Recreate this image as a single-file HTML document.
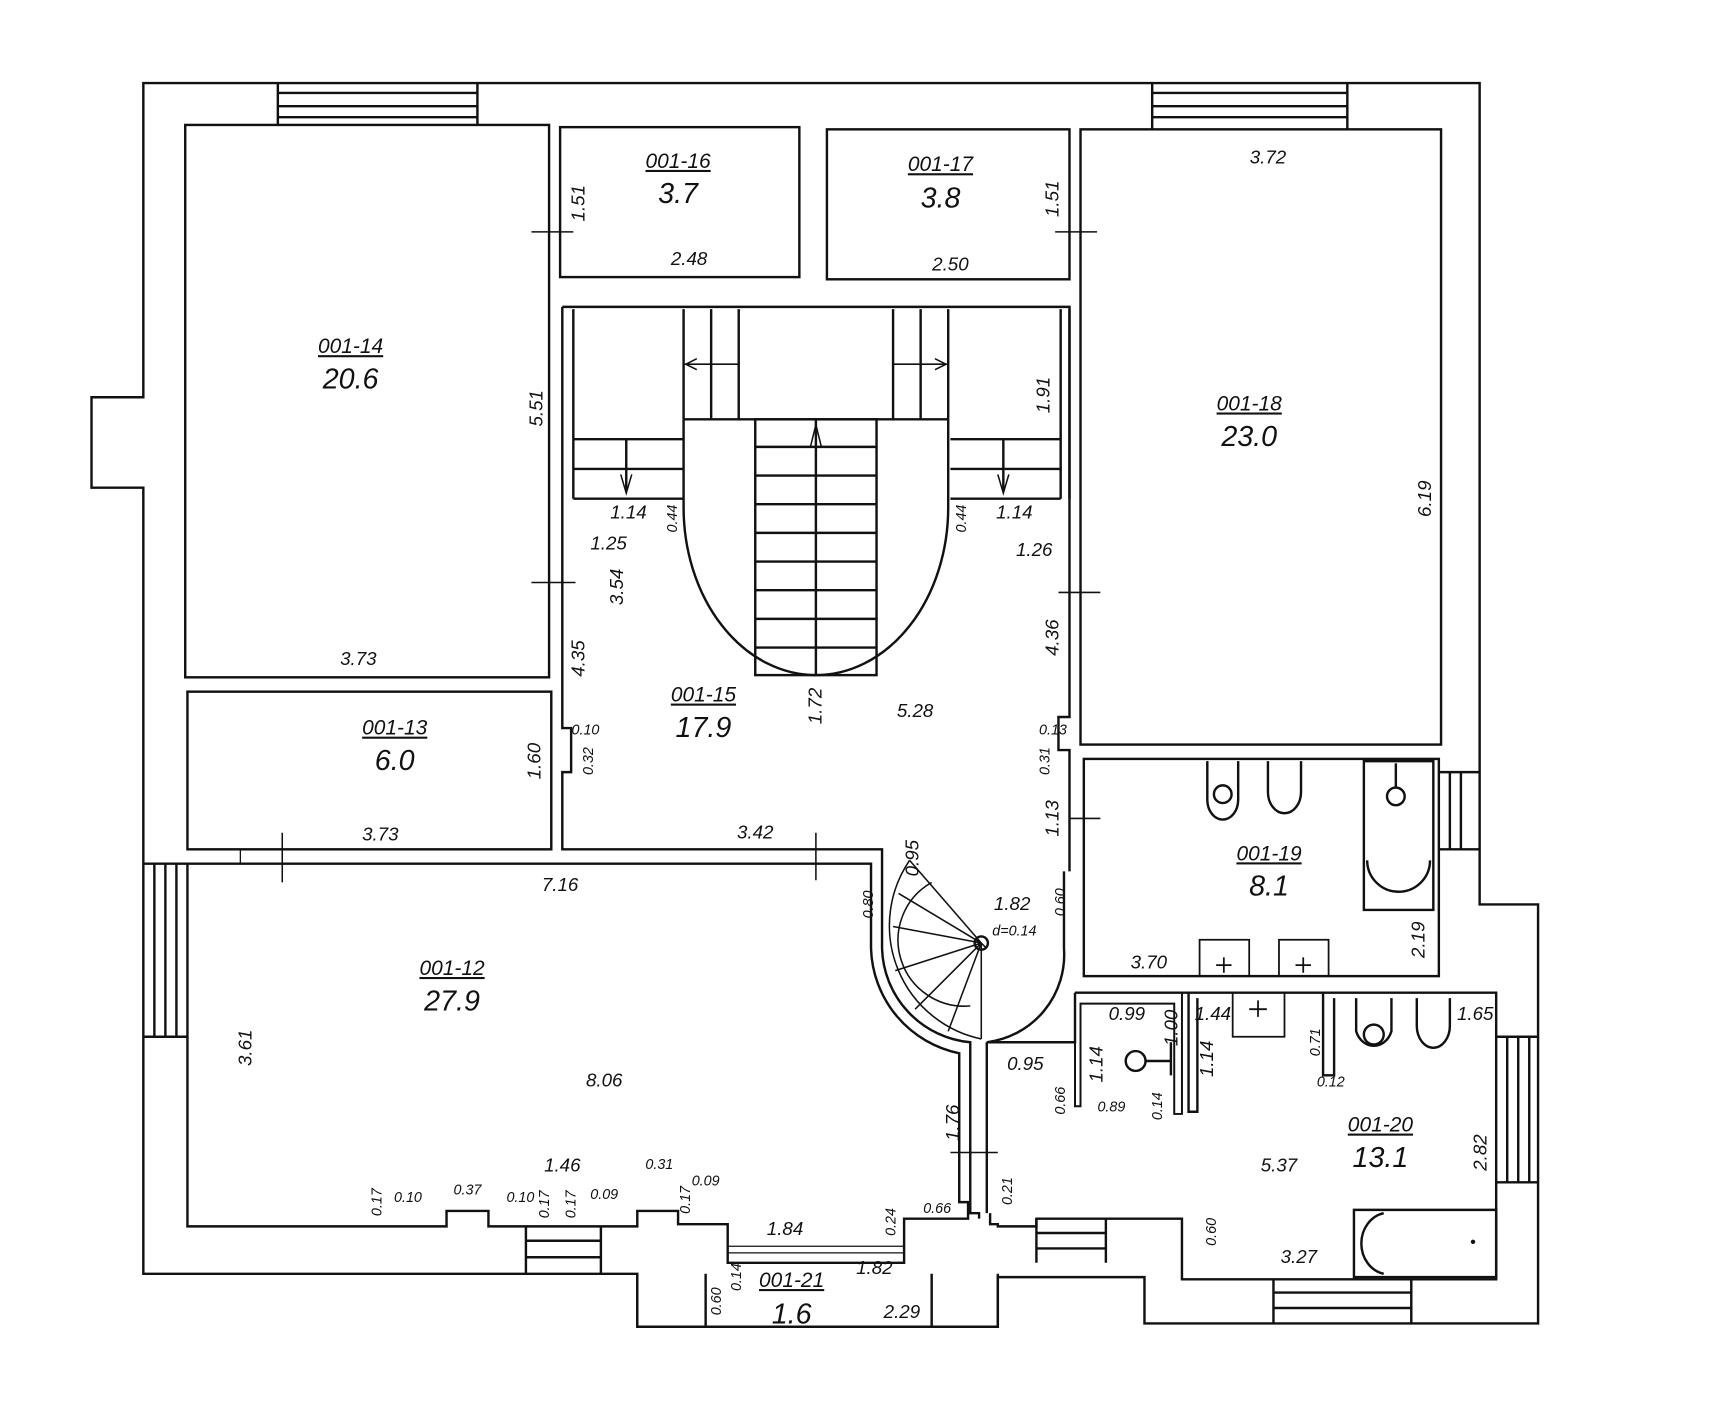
<!DOCTYPE html>
<html><head><meta charset="utf-8"><style>
html,body{margin:0;padding:0;background:#fff;}
svg{display:block}
text{font-family:"Liberation Sans Narrow","Liberation Sans",sans-serif;fill:#111;font-style:italic}
.n{font-size:19px;text-anchor:middle;text-decoration:underline}
.a{font-size:26px;text-anchor:middle}
.d{font-size:17px;text-anchor:middle}
.s{font-size:13px;text-anchor:middle}
</style></head><body>
<svg width="1720" height="1423" viewBox="0 0 1560 1290" xmlns="http://www.w3.org/2000/svg">
<g fill="none" stroke="#111" stroke-width="2.2">
<!-- outer wall -->
<path d="M130,75 H1342 V820 H1395 V1200 H1038 V1158 H905 V1203 H578 V1155 H130 V442 H83 V360 H130 Z"/>
<!-- rooms -->
<rect x="168" y="113" width="330" height="501"/>
<rect x="508" y="115" width="217" height="136"/>
<rect x="750" y="117" width="220" height="136"/>
<rect x="980" y="117" width="327" height="558"/>
<rect x="170" y="627" width="330" height="143"/>
<rect x="983" y="688" width="322" height="197"/>
<!-- hall 001-15 -->
<path d="M510,278 H970 V650 H960 V680 H970 V790"/>
<path d="M510,278 V660 H518 V700 H510 V770 H800 V860 A88,88 0 0 0 880,945 V1100 H888 V1105"/>
<path d="M965,790 V860 A80,80 0 0 1 895,945"/>
<path d="M895,945 V1100"/>
<!-- 001-12 -->
<path d="M170,783 H790 V860 A100,100 0 0 0 870,955 V1090 H878 V1105 H820 V1145 H660 V1110 H615 V1098 H578 V1112 H443 V1098 H405 V1112 H170 Z"/>
<path d="M218,770 V783 M660,1130 H820 M660,1136 H820" stroke-width="1.2"/>
<!-- 001-20 -->
<path d="M975,900 H1357 V1160 H1072 V1105 H940 V1112 H905 V1110 H898 V1100 M895,945 H975 V900"/>
<path d="M975,945 V1003 H980 V910 H1065 V1010 H1072 V900" stroke-width="1.8"/>
<path d="M1078,900 V1008 H1086 V905 M1200,900 V975 H1210 V905"/>
<!-- 001-21 -->
<path d="M578,1155 V1203 H905 V1155 M640,1155 V1203 M845,1155 V1203"/>
<!-- stairs -->
<path d="M520,280 V452 M962,280 V452 M970,280 V452"/>
<path d="M620,280 V380 M645,280 V380 M670,280 V380 M810,280 V380 M835,280 V380 M860,280 V380"/>
<path d="M620,380 H860 M620,380 V460 A120,152 0 0 0 860,460 V380"/>
<rect x="685" y="380" width="110" height="232"/>
<path d="M740,380 V612 M685,405 H795 M685,431 H795 M685,457 H795 M685,483 H795 M685,509 H795 M685,535 H795 M685,561 H795 M685,587 H795"/>
<path d="M520,398 H620 M520,425 H620 M520,452 H620 M568,398 V445 M862,398 H962 M862,425 H962 M862,452 H962 M910,398 V445"/>
<path d="M620,330 H670 M810,330 H860" stroke-width="1.4"/>
<path d="M563,430 L568,447 L573,430 M905,430 L910,447 L915,430 M735,405 L740,385 L745,405 M632,325 L622,330 L632,335 M848,325 L858,330 L848,335" stroke-width="1.4"/>
<!-- spiral -->
<path d="M890,855 L825,780 M890,855 L815,810 M890,855 L810,840 M890,855 L812,880 M890,855 L830,915 M890,855 L860,935 M890,855 L890,942 M890,855 L895,860 M890,855 V942" stroke-width="1.4"/>
<path d="M845,800 A60,60 0 0 0 880,912 M825,780 A105,105 0 0 0 890,942" stroke-width="1.4"/>
<circle cx="890" cy="855" r="6"/>
<!-- windows -->
<path d="M252,75 V113 M433,75 V113 M252,84 H433 M252,96 H433 M252,106 H433"/>
<path d="M1045,75 V117 M1222,75 V117 M1045,84 H1222 M1045,96 H1222 M1045,106 H1222"/>
<path d="M130,783 H170 M130,940 H170 M140,783 V940 M150,783 V940 M160,783 V940"/>
<path d="M1305,700 H1342 M1305,770 H1342 M1315,700 V770 M1325,700 V770"/>
<path d="M1357,940 H1395 M1357,1072 H1395 M1367,940 V1072 M1377,940 V1072 M1387,940 V1072"/>
<path d="M477,1112 V1155 M545,1112 V1155 M477,1125 H545 M477,1140 H545"/>
<path d="M940,1105 V1145 M1003,1105 V1145 M940,1118 H1003 M940,1132 H1003"/>
<path d="M1155,1160 V1200 M1280,1160 V1200 M1155,1172 H1280 M1155,1186 H1280"/>
<!-- door ticks -->
<path d="M482,210 H520 M957,210 H995 M482,528 H522 M960,537 H998 M970,742 H998 M256,755 V800 M740,755 V798 M862,1045 H905" stroke-width="1.4"/>
<!-- fixtures 001-19 -->
<path d="M1095,690 V725 A14,18 0 0 0 1123,725 V690"/><circle cx="1109" cy="720" r="8"/>
<path d="M1150,690 V718 A14,18 0 0 0 1180,718 V690"/>
<path d="M1237,690 V825 H1300 V690 Z M1240,780 A28,28 0 0 0 1297,780"/><circle cx="1266" cy="722" r="8"/><path d="M1266,692 V714"/>
<path d="M1088,885 V852 H1133 V885 M1160,885 V852 H1205 V885 M1103,875 H1117 M1110,868 V882 M1175,875 H1189 M1182,868 V882" stroke-width="1.6"/>
<!-- fixtures 001-20 -->
<path d="M1118,900 V940 H1165 V900 M1133,915 H1149 M1141,907 V922" stroke-width="1.6"/>
<path d="M1230,905 V935 A17,20 0 0 0 1262,935 V905"/><circle cx="1246" cy="938" r="9"/>
<path d="M1285,905 V930 A15,20 0 0 0 1315,930 V905"/>
<path d="M1228,1097 H1357 V1158 H1228 Z M1255,1100 A25,28 0 0 0 1255,1155"/>
<circle cx="1030" cy="962" r="9"/><path d="M1039,962 H1062 M1062,945 V975"/>
</g>
<circle cx="1336" cy="1126" r="2" fill="#111"/>
<!-- room labels -->
<text class="n" x="318" y="320">001-14</text><text class="a" x="318" y="352">20.6</text>
<text class="n" x="615" y="152">001-16</text><text class="a" x="615" y="184">3.7</text>
<text class="n" x="853" y="155">001-17</text><text class="a" x="853" y="188">3.8</text>
<text class="n" x="1133" y="372">001-18</text><text class="a" x="1133" y="404">23.0</text>
<text class="n" x="358" y="666">001-13</text><text class="a" x="358" y="698">6.0</text>
<text class="n" x="638" y="636">001-15</text><text class="a" x="638" y="668">17.9</text>
<text class="n" x="410" y="884">001-12</text><text class="a" x="410" y="916">27.9</text>
<text class="n" x="1151" y="780">001-19</text><text class="a" x="1151" y="812">8.1</text>
<text class="n" x="1252" y="1026">001-20</text><text class="a" x="1252" y="1058">13.1</text>
<text class="n" x="718" y="1167">001-21</text><text class="a" x="718" y="1200">1.6</text>
<!-- dimensions -->
<text class="d" x="625" y="240">2.48</text>
<text class="d" x="862" y="245">2.50</text>
<text class="d" x="1150" y="148">3.72</text>
<text class="d" x="325" y="603">3.73</text>
<text class="d" x="345" y="762">3.73</text>
<text class="d" x="685" y="760">3.42</text>
<text class="d" x="508" y="808">7.16</text>
<text class="d" x="548" y="985">8.06</text>
<text class="d" x="830" y="650">5.28</text>
<text class="d" x="570" y="470">1.14</text>
<text class="d" x="920" y="470">1.14</text>
<text class="d" x="552" y="498">1.25</text>
<text class="d" x="938" y="504">1.26</text>
<text class="d" x="918" y="825">1.82</text>
<text class="s" x="920" y="848">d=0.14</text>
<text class="d" x="1042" y="878">3.70</text>
<text class="d" x="930" y="970">0.95</text>
<text class="d" x="1022" y="925">0.99</text>
<text class="d" x="1100" y="925">1.44</text>
<text class="d" x="1338" y="925">1.65</text>
<text class="d" x="1160" y="1062">5.37</text>
<text class="d" x="1178" y="1145">3.27</text>
<text class="d" x="510" y="1062">1.46</text>
<text class="d" x="712" y="1120">1.84</text>
<text class="d" x="793" y="1155">1.82</text>
<text class="d" x="818" y="1195">2.29</text>
<text class="s" x="850" y="1100">0.66</text>
<text class="s" x="1008" y="1008">0.89</text>
<text class="s" x="1207" y="985">0.12</text>
<text class="s" x="598" y="1060">0.31</text>
<text class="s" x="640" y="1075">0.09</text>
<text class="s" x="370" y="1090">0.10</text>
<text class="s" x="424" y="1083">0.37</text>
<text class="s" x="472" y="1090">0.10</text>
<text class="s" x="548" y="1087">0.09</text>
<text class="s" x="531" y="666">0.10</text>
<text class="s" x="955" y="666">0.13</text>
<text class="d" transform="translate(530,184) rotate(-90)">1.51</text>
<text class="d" transform="translate(960,180) rotate(-90)">1.51</text>
<text class="d" transform="translate(492,370) rotate(-90)">5.51</text>
<text class="d" transform="translate(952,358) rotate(-90)">1.91</text>
<text class="d" transform="translate(1298,452) rotate(-90)">6.19</text>
<text class="d" transform="translate(565,532) rotate(-90)">3.54</text>
<text class="d" transform="translate(530,597) rotate(-90)">4.35</text>
<text class="d" transform="translate(960,578) rotate(-90)">4.36</text>
<text class="d" transform="translate(490,690) rotate(-90)">1.60</text>
<text class="d" transform="translate(745,640) rotate(-90)">1.72</text>
<text class="d" transform="translate(960,742) rotate(-90)">1.13</text>
<text class="d" transform="translate(833,778) rotate(-90)">0.95</text>
<text class="d" transform="translate(1292,852) rotate(-90)">2.19</text>
<text class="d" transform="translate(228,950) rotate(-90)">3.61</text>
<text class="d" transform="translate(870,1018) rotate(-90)">1.76</text>
<text class="d" transform="translate(1000,965) rotate(-90)">1.14</text>
<text class="d" transform="translate(1100,960) rotate(-90)">1.14</text>
<text class="d" transform="translate(1068,932) rotate(-90)">1.00</text>
<text class="d" transform="translate(1348,1045) rotate(-90)">2.82</text>
<text class="s" transform="translate(614,470) rotate(-90)">0.44</text>
<text class="s" transform="translate(876,470) rotate(-90)">0.44</text>
<text class="s" transform="translate(538,690) rotate(-90)">0.32</text>
<text class="s" transform="translate(952,690) rotate(-90)">0.31</text>
<text class="s" transform="translate(966,818) rotate(-90)">0.60</text>
<text class="s" transform="translate(792,820) rotate(-90)">0.80</text>
<text class="s" transform="translate(966,998) rotate(-90)">0.66</text>
<text class="s" transform="translate(1054,1003) rotate(-90)">0.14</text>
<text class="s" transform="translate(1197,945) rotate(-90)">0.71</text>
<text class="s" transform="translate(1103,1117) rotate(-90)">0.60</text>
<text class="s" transform="translate(918,1080) rotate(-90)">0.21</text>
<text class="s" transform="translate(812,1108) rotate(-90)">0.24</text>
<text class="s" transform="translate(672,1158) rotate(-90)">0.14</text>
<text class="s" transform="translate(654,1180) rotate(-90)">0.60</text>
<text class="s" transform="translate(346,1090) rotate(-90)">0.17</text>
<text class="s" transform="translate(498,1092) rotate(-90)">0.17</text>
<text class="s" transform="translate(522,1092) rotate(-90)">0.17</text>
<text class="s" transform="translate(626,1088) rotate(-90)">0.17</text>
</svg>
</body></html>
